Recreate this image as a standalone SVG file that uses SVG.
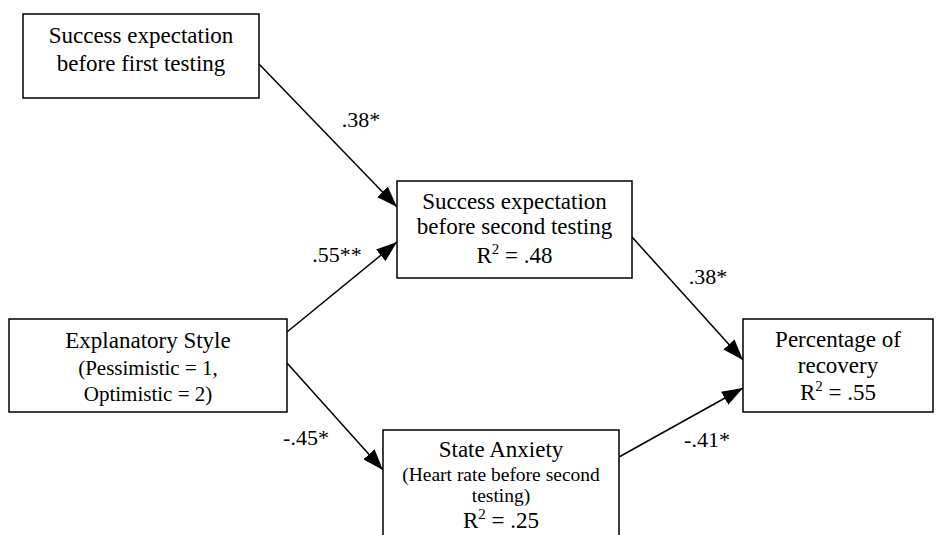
<svg xmlns="http://www.w3.org/2000/svg" width="937" height="535" viewBox="0 0 937 535">
<style>
.box{fill:#fff;stroke:#000;stroke-width:1.5}
text{font-family:"Liberation Serif","Times New Roman",serif;font-size:23px;fill:#000;text-anchor:middle}
.sub{font-size:21px}
.sm{font-size:19.5px}
.lbl{font-size:22px}
.sup{font-size:15px}
.edge{stroke:#000;stroke-width:1.5;fill:none;marker-end:url(#ah)}
</style>
<defs>
<marker id="ah" viewBox="0 0 21 15" refX="21" refY="7.5" markerWidth="21" markerHeight="15" markerUnits="userSpaceOnUse" orient="auto">
<path d="M0,0 L21,7.5 L0,15 Z" fill="#000"/>
</marker>
</defs>
<rect width="937" height="535" fill="#fff"/>
<g id="connectors">
<line class="edge" x1="259" y1="64" x2="397" y2="207"/>
<line class="edge" x1="287" y1="332" x2="397" y2="242"/>
<line class="edge" x1="287" y1="363" x2="383" y2="470"/>
<line class="edge" x1="632" y1="237" x2="743" y2="360"/>
<line class="edge" x1="619" y1="457" x2="743" y2="388"/>
<text class="lbl" x="361" y="127">.38*</text>
<text class="lbl" x="337" y="262">.55**</text>
<text class="lbl" x="708" y="284">.38*</text>
<text class="lbl" x="306" y="445">-.45*</text>
<text class="lbl" x="707" y="447">-.41*</text>
</g>
<g id="n1">
<rect class="box" x="23" y="14" width="236" height="84"/>
<text x="141" y="43">Success expectation</text>
<text x="141" y="71">before first testing</text>
</g>
<g id="n2">
<rect class="box" x="397" y="181" width="235" height="97"/>
<text x="514.5" y="209">Success expectation</text>
<text x="514.5" y="234">before second testing</text>
<text x="514.5" y="263">R<tspan class="sup" dy="-9">2</tspan><tspan dy="9"> = .48</tspan></text>
</g>
<g id="n3">
<rect class="box" x="9" y="319" width="278" height="93"/>
<text x="148" y="348">Explanatory Style</text>
<text class="sub" x="148" y="375">(Pessimistic = 1,</text>
<text class="sub" x="148" y="401">Optimistic = 2)</text>
</g>
<g id="n4">
<rect class="box" x="743" y="319" width="190" height="93"/>
<text x="838" y="347">Percentage of</text>
<text x="838" y="373">recovery</text>
<text x="838" y="400">R<tspan class="sup" dy="-9">2</tspan><tspan dy="9"> = .55</tspan></text>
</g>
<g id="n5">
<rect class="box" x="383" y="430" width="236" height="115"/>
<text x="501" y="457">State Anxiety</text>
<text class="sm" x="501" y="481">(Heart rate before second</text>
<text class="sm" x="501" y="502">testing)</text>
<text x="501" y="528">R<tspan class="sup" dy="-9">2</tspan><tspan dy="9"> = .25</tspan></text>
</g>
</svg>
